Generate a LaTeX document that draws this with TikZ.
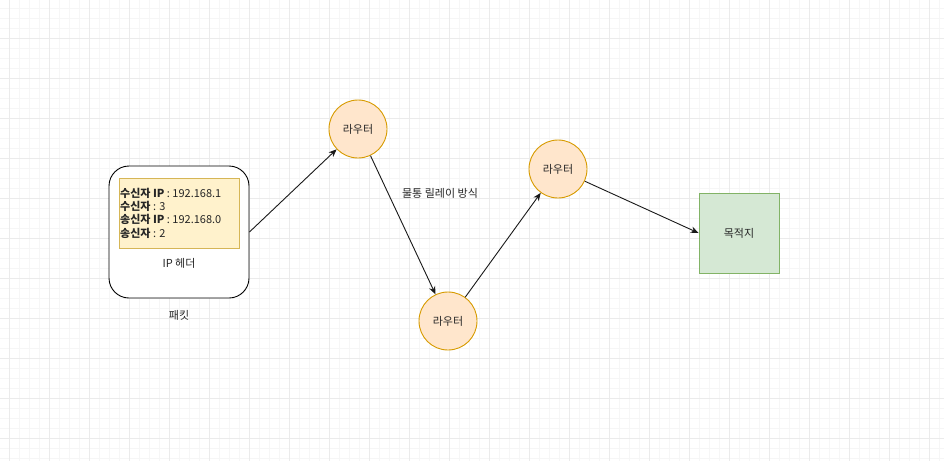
\documentclass[tikz,border=0pt]{standalone}
\usepackage{fontspec}
\setmainfont{Noto Sans CJK KR}
\usetikzlibrary{arrows.meta}
\definecolor{gridminor}{HTML}{F6F6F6}
\definecolor{gridmajor}{HTML}{EBEBEB}
\definecolor{routerfill}{HTML}{FFE6CC}
\definecolor{routerdraw}{HTML}{D79B00}
\definecolor{hdrfill}{HTML}{FFF2CC}
\definecolor{hdrdraw}{HTML}{D6B656}
\definecolor{dstfill}{HTML}{D5E8D4}
\definecolor{dstdraw}{HTML}{82B366}
\tikzset{
  every node/.style={font=\fontsize{11}{13.3}\selectfont, text=black!85},
  router/.style={circle, minimum size=58pt, inner sep=0pt, fill=routerfill, draw=routerdraw, line width=0.9pt},
  conn/.style={draw=black!90, line width=0.9pt, -{Stealth[length=8pt,width=6.5pt]}},
}
\begin{document}
\begin{tikzpicture}[x=1pt,y=-1pt]
\useasboundingbox (0,0) rectangle (944,461);
\fill[white] (0,0) rectangle (944,461);
\foreach \x in {9,19,...,939} \draw[gridminor, line width=0.8pt] (\x,0) -- (\x,461);
\foreach \y in {8,18,...,458} \draw[gridminor, line width=0.8pt] (0,\y) -- (944,\y);
\foreach \x in {9,49,...,929} \draw[gridmajor, line width=0.8pt] (\x,0) -- (\x,461);
\foreach \y in {38,78,...,438} \draw[gridmajor, line width=0.8pt] (0,\y) -- (944,\y);

% packet
\node[draw=black, line width=0.9pt, rounded corners=20pt, fill=white, minimum width=140pt, minimum height=132pt, inner sep=0pt] (packet) at (179,232) {};
\node[draw=hdrdraw, fill=hdrfill, line width=0.9pt, minimum width=120pt, minimum height=70pt, inner sep=0pt] (hdr) at (179,213) {};
\node[anchor=west, align=left, inner sep=0pt] (hdrtext) at (120,213) {\textbf{수신자 IP} : 192.168.1\\\textbf{수신자} : 3\\\textbf{송신자 IP} : 192.168.0\\\textbf{송신자} : 2};
\node (hdrlabel) at (179,263) {IP 헤더};
\node (packetlabel) at (179,315) {패킷};

% routers
\node[router] (r1) at (358,129) {라우터};
\node[router] (r2) at (448,321) {라우터};
\node[router] (r3) at (558,169) {라우터};

% destination
\node[draw=dstdraw, fill=dstfill, line width=0.9pt, minimum size=80pt, inner sep=0pt] (dst) at (739,233) {목적지};

\node (relay) at (440,193) {물통 릴레이 방식};

\draw[conn] (packet.east) -- (r1);
\draw[conn] (r1) -- (r2);
\draw[conn] (r2) -- (r3);
\draw[conn] (r3) -- (dst.west);
\end{tikzpicture}
\end{document}
